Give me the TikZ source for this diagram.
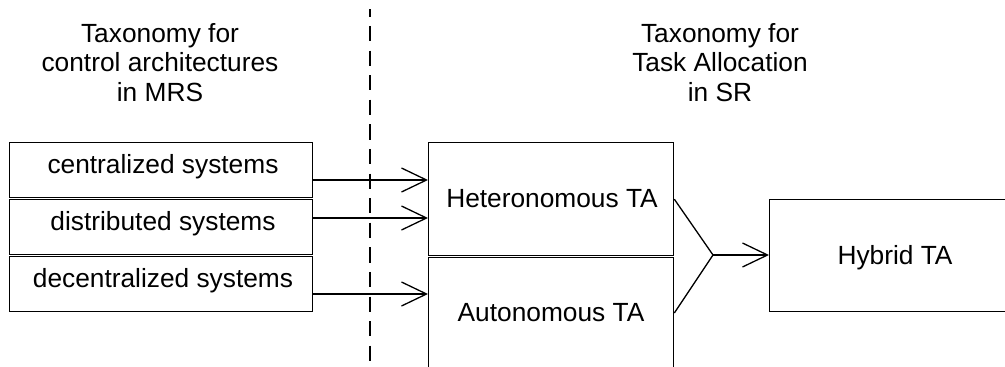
\documentclass[tikz,border=0pt]{standalone}
\usepackage{fontspec}
\setmainfont{Liberation Sans}
\usetikzlibrary{arrows.meta}
\begin{document}
\begin{tikzpicture}[x=1pt,y=-1pt,
  line width=1.3pt,
  box/.style={draw, rectangle, inner sep=0pt, anchor=north west},
  lbl/.style={inner sep=0pt, anchor=base},
  ttl/.style={inner sep=0pt, anchor=north, align=center},
  arr/.style={-{Straight Barb[length=25pt,width=24pt]}},
  sep/.style={dashed, dash pattern=on 15.3pt off 9.3pt, dash phase=8pt},
  font=\fontsize{26.3}{29.5}\selectfont]
\useasboundingbox (0,0) rectangle (1005,367);
\clip (0,0) rectangle (1005,367);

% column headings
\node[ttl] (ttlL) at (160,22.8) {Taxonomy for\\control architectures\\in MRS};
\node[ttl] (ttlR) at (720,22.8) {Taxonomy for\\Task Allocation\\in SR};

% separator between the two taxonomies
\coordinate (sepTop) at (370,9.3);
\coordinate (sepBot) at (370,367);
\draw[sep] (sepTop) -- (sepBot);

% control architectures
\node[box, minimum width=303pt, minimum height=55pt]   (cen) at (9,142) {};
\node[box, minimum width=303pt, minimum height=54.5pt] (dis) at (9,199) {};
\node[box, minimum width=303pt, minimum height=55pt]   (dec) at (9,256) {};
\node[lbl] (cenT) at (163,173.3) {centralized systems};
\node[lbl] (disT) at (163,230) {distributed systems};
\node[lbl] (decT) at (163,287) {decentralized systems};

% task allocation classes
\node[box, minimum width=245pt, minimum height=113pt] (het) at (428,142) {};
\node[box, minimum width=245pt, minimum height=130pt] (aut) at (428,257) {};
\node[box, minimum width=260pt, minimum height=112pt] (hyb) at (769,199) {};
\node[lbl] (hetT) at (552,207.3) {Heteronomous TA};
\node[lbl] (autT) at (551,321) {Autonomous TA};
\node[lbl] (hybT) at (895,264) {Hybrid TA};

% mappings
\draw[arr] (cen.east |- 0,180) -- (het.west |- 0,180);
\draw[arr] (dis.east |- 0,218) -- (het.west |- 0,218);
\draw[arr] (dec.east |- 0,294) -- (aut.west |- 0,294);

% combination into hybrid allocation
\coordinate (join) at (713,255);
\draw (het.east) -- (join) -- (aut.east |- 0,313);
\draw[arr] (join) -- (hyb.west |- join);
\end{tikzpicture}
\end{document}
